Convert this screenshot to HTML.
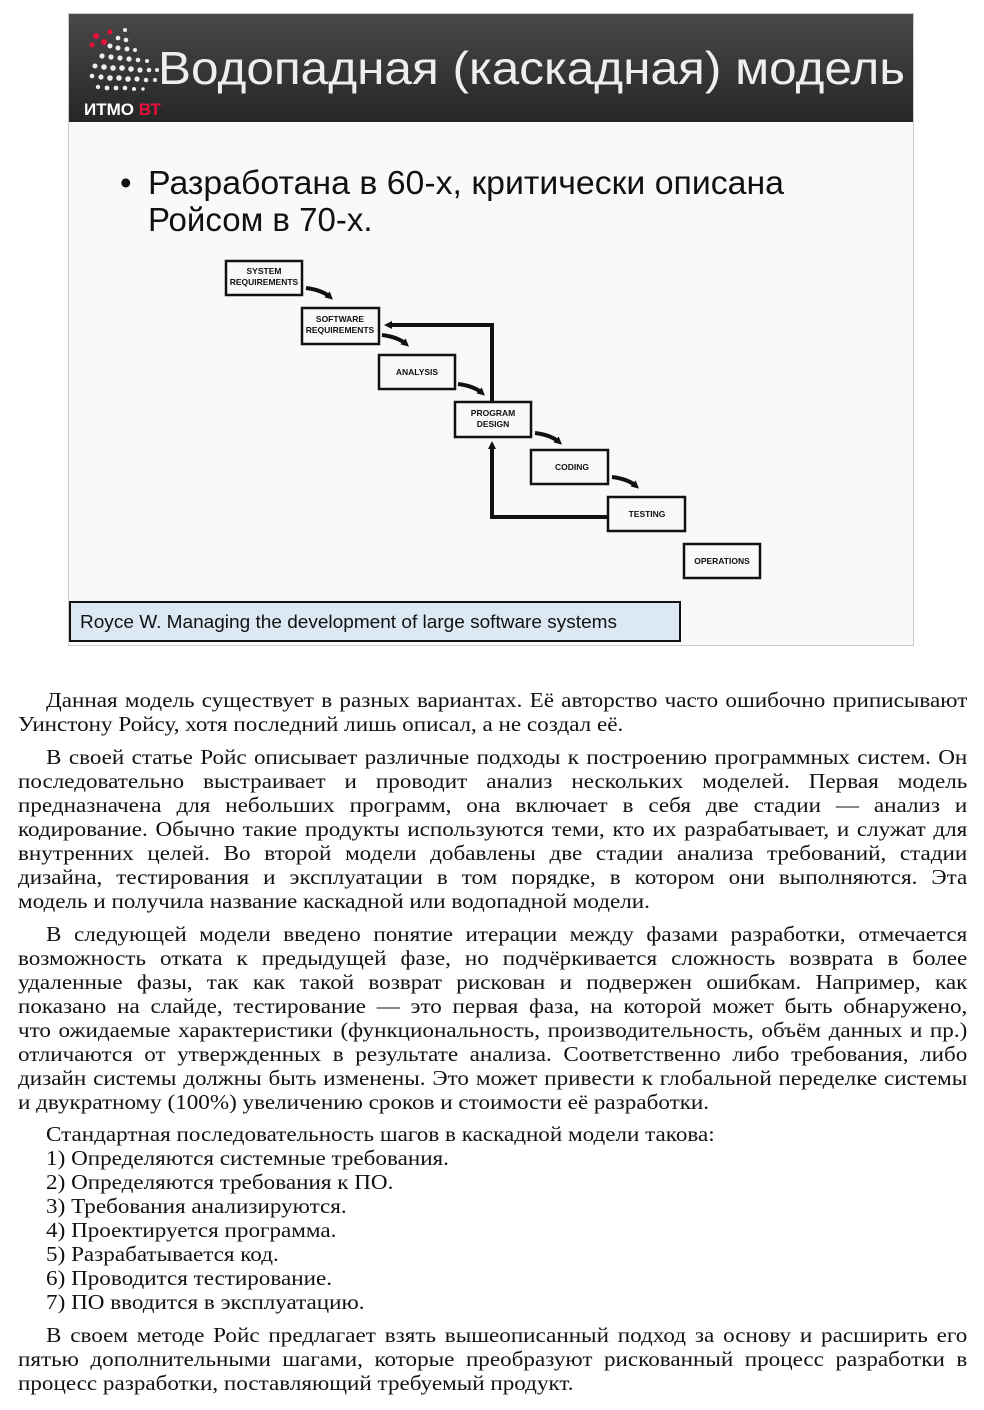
<!DOCTYPE html>
<html><head><meta charset="utf-8"><style>
body{margin:0;width:984px;height:1410px;background:#fff;position:relative;overflow:hidden}
.t{position:absolute;left:18px;width:863px;transform:scaleX(1.1);transform-origin:0 0;font-family:"Liberation Serif",serif;font-size:21px;line-height:24px;color:#111}
.l{text-align:justify;text-align-last:justify;white-space:nowrap;height:24px}
.e{text-align:left;text-align-last:left;white-space:nowrap;height:24px}
.i{padding-left:25.5px}
.g{height:8.8px}
</style></head><body>
<svg width="984" height="660" style="position:absolute;left:0;top:0" font-family="Liberation Sans, sans-serif">
<defs><linearGradient id="g" x1="0" y1="0" x2="0" y2="1"><stop offset="0" stop-color="#484848"/><stop offset="1" stop-color="#262626"/></linearGradient>
<marker id="a" markerWidth="8" markerHeight="8" refX="4" refY="4" orient="auto" markerUnits="userSpaceOnUse"><path d="M0,0 L8,4 L0,8z" fill="#111"/></marker></defs>
<rect x="68.5" y="13.5" width="845" height="632" fill="#f9f9f9" stroke="#ccc"/>
<rect x="69" y="14" width="844" height="108" fill="url(#g)"/>
<g fill="#eee">
<circle cx="125" cy="30" r="2"/><circle cx="118" cy="38" r="2.3"/><circle cx="126" cy="40" r="2.3"/><circle cx="110" cy="46" r="2.5"/><circle cx="118" cy="48" r="2.5"/><circle cx="127" cy="49" r="2.5"/><circle cx="135" cy="50" r="2"/>
<circle cx="102" cy="56" r="2.6"/><circle cx="111" cy="57" r="2.6"/><circle cx="120" cy="58" r="2.6"/><circle cx="129" cy="59" r="2.6"/><circle cx="138" cy="60" r="2.3"/><circle cx="147" cy="61" r="2"/>
<circle cx="95" cy="66" r="2.5"/><circle cx="104" cy="67" r="2.8"/><circle cx="113" cy="68" r="2.8"/><circle cx="122" cy="68" r="2.8"/><circle cx="131" cy="69" r="2.8"/><circle cx="140" cy="70" r="2.6"/><circle cx="149" cy="70" r="2.3"/><circle cx="157" cy="70" r="2"/>
<circle cx="92" cy="76" r="2.3"/><circle cx="101" cy="77" r="2.6"/><circle cx="110" cy="78" r="2.8"/><circle cx="119" cy="78" r="2.8"/><circle cx="128" cy="79" r="2.8"/><circle cx="137" cy="79" r="2.6"/><circle cx="146" cy="80" r="2.3"/><circle cx="155" cy="80" r="2"/>
<circle cx="98" cy="87" r="2.2"/><circle cx="107" cy="88" r="2.4"/><circle cx="116" cy="88" r="2.4"/><circle cx="125" cy="88" r="2.3"/><circle cx="134" cy="89" r="2"/><circle cx="143" cy="89" r="1.7"/>
</g>
<g fill="#e8103a"><circle cx="96" cy="36" r="3"/><circle cx="104" cy="42" r="3"/><circle cx="110" cy="32" r="2.5"/><circle cx="92" cy="45" r="2.5"/></g>
<text x="84" y="115" font-size="17" font-weight="bold" fill="#fff">ИТМО <tspan fill="#e8103a">ВТ</tspan></text>
<text x="158" y="84" font-size="46" fill="#eee" textLength="747" lengthAdjust="spacingAndGlyphs">Водопадная (каскадная) модель</text>
<text x="120" y="194" font-size="33" fill="#111">•</text>
<text x="148" y="194" font-size="33" fill="#111" textLength="636" lengthAdjust="spacingAndGlyphs">Разработана в 60-х, критически описана</text>
<text x="148" y="231" font-size="33" fill="#111">Ройсом в 70-х.</text>
<g fill="none" stroke="#111" stroke-width="2.5">
<rect x="226" y="261" width="76" height="34"/><rect x="302" y="308" width="77" height="36"/><rect x="379" y="355" width="76" height="34"/><rect x="455" y="402" width="76" height="35"/><rect x="531" y="450" width="77" height="34"/><rect x="608" y="497" width="77" height="34"/><rect x="684" y="544" width="76" height="34"/>
</g>
<g fill="none" stroke="#111" stroke-width="4">
<path d="M306,288 Q322,290 330,297" marker-end="url(#a)"/>
<path d="M382,335 Q398,337 406,344" marker-end="url(#a)"/>
<path d="M458,384 Q474,386 482,393" marker-end="url(#a)"/>
<path d="M535,433 Q551,435 559,442" marker-end="url(#a)"/>
<path d="M612,477 Q628,479 636,486" marker-end="url(#a)"/>
<path d="M492,402 V325 H388" marker-end="url(#a)"/>
<path d="M608,517 H492 V445" marker-end="url(#a)"/>
</g>
<g font-size="8.5" font-weight="bold" text-anchor="middle" fill="#111">
<text x="264" y="274">SYSTEM</text><text x="264" y="285">REQUIREMENTS</text>
<text x="340" y="322">SOFTWARE</text><text x="340" y="333">REQUIREMENTS</text>
<text x="417" y="375">ANALYSIS</text>
<text x="493" y="416">PROGRAM</text><text x="493" y="427">DESIGN</text>
<text x="572" y="470">CODING</text>
<text x="647" y="517">TESTING</text>
<text x="722" y="564">OPERATIONS</text>
</g>
<rect x="70" y="602" width="610" height="39" fill="#dce9f5" stroke="#111" stroke-width="2"/>
<text x="80" y="628" font-size="18" fill="#111" textLength="537" lengthAdjust="spacingAndGlyphs">Royce W. Managing the development of large software systems</text>
</svg>
<div class="t" style="top:688px">
<div class="l i">Данная модель существует в разных вариантах. Её авторство часто ошибочно приписывают</div>
<div class="e">Уинстону Ройсу, хотя последний лишь описал, а не создал её.</div>
<div class="g"></div>
<div class="l i">В своей статье Ройс описывает различные подходы к построению программных систем. Он</div>
<div class="l">последовательно выстраивает и проводит анализ нескольких моделей. Первая модель</div>
<div class="l">предназначена для небольших программ, она включает в себя две стадии — анализ и</div>
<div class="l">кодирование. Обычно такие продукты используются теми, кто их разрабатывает, и служат для</div>
<div class="l">внутренних целей. Во второй модели добавлены две стадии анализа требований, стадии</div>
<div class="l">дизайна, тестирования и эксплуатации в том порядке, в котором они выполняются. Эта</div>
<div class="e">модель и получила название каскадной или водопадной модели.</div>
<div class="g"></div>
<div class="l i">В следующей модели введено понятие итерации между фазами разработки, отмечается</div>
<div class="l">возможность отката к предыдущей фазе, но подчёркивается сложность возврата в более</div>
<div class="l">удаленные фазы, так как такой возврат рискован и подвержен ошибкам. Например, как</div>
<div class="l">показано на слайде, тестирование — это первая фаза, на которой может быть обнаружено,</div>
<div class="l">что ожидаемые характеристики (функциональность, производительность, объём данных и пр.)</div>
<div class="l">отличаются от утвержденных в результате анализа. Соответственно либо требования, либо</div>
<div class="l">дизайн системы должны быть изменены. Это может привести к глобальной переделке системы</div>
<div class="e">и двукратному (100%) увеличению сроков и стоимости её разработки.</div>
<div class="g"></div>
<div class="e i">Стандартная последовательность шагов в каскадной модели такова:</div>
<div class="e i">1) Определяются системные требования.</div>
<div class="e i">2) Определяются требования к ПО.</div>
<div class="e i">3) Требования анализируются.</div>
<div class="e i">4) Проектируется программа.</div>
<div class="e i">5) Разрабатывается код.</div>
<div class="e i">6) Проводится тестирование.</div>
<div class="e i">7) ПО вводится в эксплуатацию.</div>
<div class="g"></div>
<div class="l i">В своем методе Ройс предлагает взять вышеописанный подход за основу и расширить его</div>
<div class="l">пятью дополнительными шагами, которые преобразуют рискованный процесс разработки в</div>
<div class="e">процесс разработки, поставляющий требуемый продукт.</div>
</div>
</body></html>
